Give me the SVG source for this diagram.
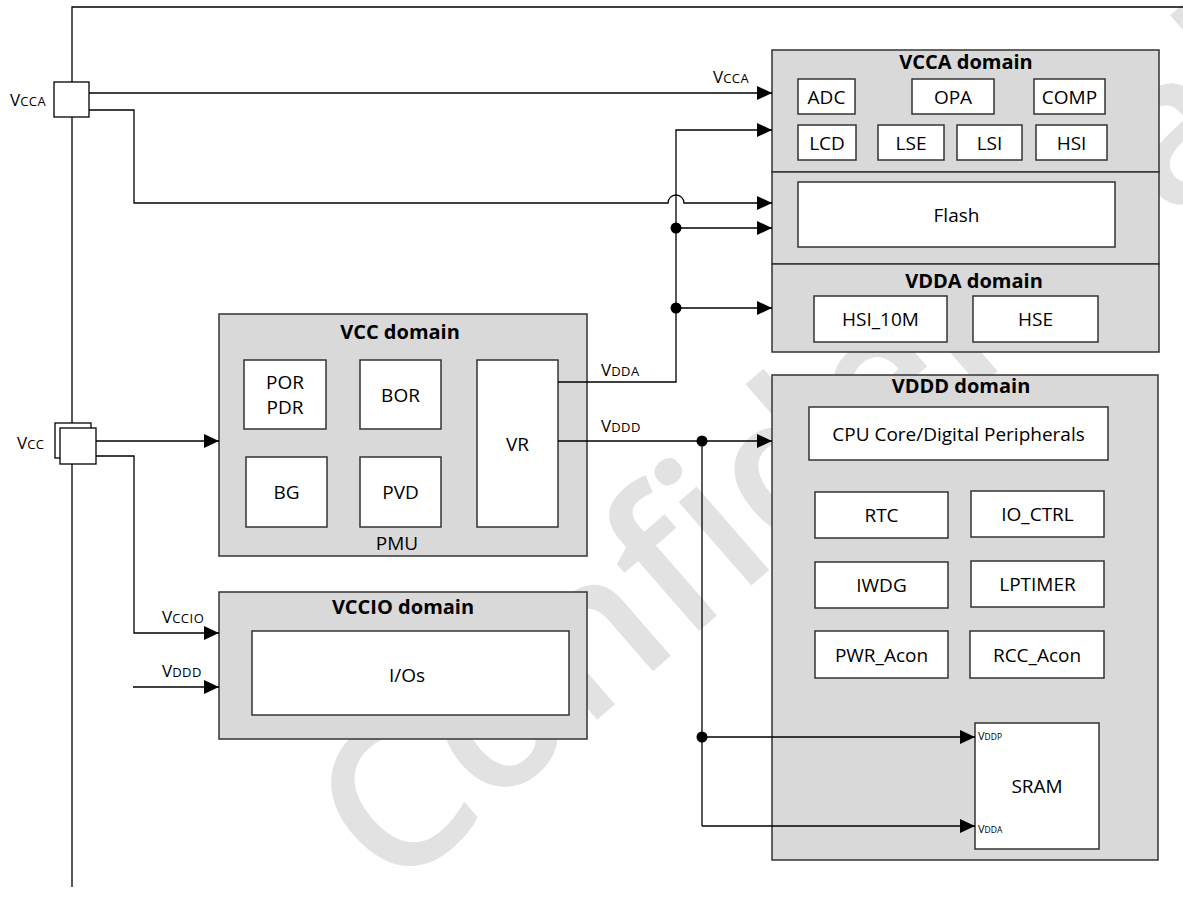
<svg xmlns="http://www.w3.org/2000/svg" width="1183" height="917" viewBox="0 0 1183 917">
<style>
.dom{fill:#d9d9d9;stroke:#333;stroke-width:1.5}
.blk{fill:#fff;stroke:#333;stroke-width:1.5}
.pin{fill:#fff;stroke:#000;stroke-width:1.3}
.t{font-family:"Open Sans","Liberation Sans",sans-serif;font-size:19px;fill:#000;text-anchor:middle}
.tt{font-family:"Open Sans","Liberation Sans",sans-serif;font-size:20px;font-weight:bold;fill:#000;text-anchor:middle}
.lbl{font-family:"Open Sans","Liberation Sans",sans-serif;font-size:17px;fill:#000}
.sc{font-size:13px;letter-spacing:0.5px}
.sm{font-family:"Open Sans","Liberation Sans",sans-serif;font-size:11px;fill:#000}
.sm2{font-size:8.5px}
.w{fill:none;stroke:#000;stroke-width:1.3}
.wa{fill:none;stroke:#000;stroke-width:1.3;marker-end:url(#ah)}
.dot{fill:#000}
.wm{font-family:"Open Sans","Liberation Sans",sans-serif;font-size:205px;font-weight:600;fill:#e2e2e2}
</style>
<defs>
<marker id="ah" markerUnits="userSpaceOnUse" markerWidth="15" markerHeight="14" refX="15" refY="7" orient="auto">
<path d="M0,0 L15,7 L0,14 z" fill="#000"/>
</marker>
</defs>
<rect width="1183" height="917" fill="#fff"/>
<g id="watermark">
<text class="wm" x="392" y="898" transform="rotate(-41 392 898)">Confidential</text>
</g>

<g id="frame">
<path class="w" d="M72,887 V7 H1183"/>
</g>

<g id="vcca-domain">
<rect class="dom" x="772" y="50" width="387" height="122"/>
<text class="tt" x="966" y="69">VCCA domain</text>
<rect class="blk" x="798" y="79" width="57" height="35"/><text class="t" x="826.5" y="103.5">ADC</text>
<rect class="blk" x="912" y="79" width="82" height="35"/><text class="t" x="953" y="103.5">OPA</text>
<rect class="blk" x="1034" y="79" width="71" height="35"/><text class="t" x="1069.5" y="103.5">COMP</text>
<rect class="blk" x="798" y="125" width="58" height="35"/><text class="t" x="827" y="149.5">LCD</text>
<rect class="blk" x="878" y="125" width="66" height="35"/><text class="t" x="911" y="149.5">LSE</text>
<rect class="blk" x="957" y="125" width="65" height="35"/><text class="t" x="989.5" y="149.5">LSI</text>
<rect class="blk" x="1036" y="125" width="71" height="35"/><text class="t" x="1071.5" y="149.5">HSI</text>
</g>

<g id="flash-section">
<rect class="dom" x="772" y="172" width="387" height="92"/>
<rect class="blk" x="798" y="182" width="317" height="65"/>
<text class="t" x="956.5" y="221.5">Flash</text>
</g>

<g id="vdda-domain">
<rect class="dom" x="772" y="264" width="387" height="88"/>
<text class="tt" x="974" y="288">VDDA domain</text>
<rect class="blk" x="814" y="296" width="133" height="46"/><text class="t" x="880.5" y="326">HSI_10M</text>
<rect class="blk" x="973" y="296" width="125" height="46"/><text class="t" x="1035.5" y="326">HSE</text>
</g>

<g id="vcc-domain">
<rect class="dom" x="219" y="314" width="368" height="242"/>
<text class="tt" x="400" y="339">VCC domain</text>
<rect class="blk" x="244" y="360" width="82" height="69"/>
<text class="t" x="285" y="389">POR</text><text class="t" x="285" y="414">PDR</text>
<rect class="blk" x="360" y="360" width="81" height="69"/><text class="t" x="400.5" y="402">BOR</text>
<rect class="blk" x="246" y="457" width="81" height="70"/><text class="t" x="286.5" y="499">BG</text>
<rect class="blk" x="360" y="457" width="81" height="70"/><text class="t" x="400.5" y="499">PVD</text>
<rect class="blk" x="477" y="360" width="81" height="167"/><text class="t" x="517.5" y="451">VR</text>
<text class="t" x="397" y="550">PMU</text>
</g>

<g id="vccio-domain">
<rect class="dom" x="219" y="592" width="368" height="147"/>
<text class="tt" x="403" y="614">VCCIO domain</text>
<rect class="blk" x="252" y="631" width="317" height="84"/>
<text class="t" x="407" y="682">I/Os</text>
</g>

<g id="vddd-domain">
<rect class="dom" x="772" y="375" width="386" height="485"/>
<text class="tt" x="961" y="393">VDDD domain</text>
<rect class="blk" x="809" y="407" width="299" height="53"/><text class="t" x="958.5" y="440.5">CPU Core/Digital Peripherals</text>
<rect class="blk" x="815" y="492" width="133" height="46"/><text class="t" x="881.5" y="522">RTC</text>
<rect class="blk" x="971" y="491" width="133" height="46"/><text class="t" x="1037.5" y="521">IO_CTRL</text>
<rect class="blk" x="815" y="562" width="133" height="46"/><text class="t" x="881.5" y="592">IWDG</text>
<rect class="blk" x="971" y="561" width="133" height="46"/><text class="t" x="1037.5" y="591">LPTIMER</text>
<rect class="blk" x="815" y="631" width="133" height="47"/><text class="t" x="881.5" y="661.5">PWR_Acon</text>
<rect class="blk" x="970" y="631" width="134" height="47"/><text class="t" x="1037" y="661.5">RCC_Acon</text>
</g>

<g id="sram">
<rect class="blk" x="975" y="723" width="124" height="126"/>
<text class="t" x="1037" y="793">SRAM</text>
<text class="sm" x="978" y="740">V<tspan class="sm2">DDP</tspan></text>
<text class="sm" x="978" y="833">V<tspan class="sm2">DDA</tspan></text>
</g>

<g id="connectors">
<path class="wa" d="M89,93 H772"/>
<path class="wa" d="M89,110 H134 V203 H668 A8,8 0 0 1 684,203 H772"/>
<path class="wa" d="M558,382 H676 V130 H772"/>
<path class="wa" d="M676,228 H772"/>
<path class="wa" d="M676,308 H772"/>
<path class="wa" d="M96,441 H219"/>
<path class="wa" d="M96,456 H134 V633 H219"/>
<path class="wa" d="M133,687 H219"/>
<path class="wa" d="M558,441 H772"/>
<path class="w" d="M702,441 V826"/>
<path class="wa" d="M702,737 H975"/>
<path class="wa" d="M702,826 H975"/>
<circle class="dot" cx="676" cy="228" r="5.5"/>
<circle class="dot" cx="676" cy="308" r="5.5"/>
<circle class="dot" cx="702" cy="441" r="5.5"/>
<circle class="dot" cx="702" cy="737" r="5.5"/>
<text class="lbl" x="713" y="83">V<tspan class="sc">CCA</tspan></text>
<text class="lbl" x="601" y="376">V<tspan class="sc">DDA</tspan></text>
<text class="lbl" x="601" y="432">V<tspan class="sc">DDD</tspan></text>
<text class="lbl" x="162" y="623">V<tspan class="sc">CCIO</tspan></text>
<text class="lbl" x="162" y="677">V<tspan class="sc">DDD</tspan></text>
</g>

<g id="pin-vcca">
<rect class="pin" x="54" y="82" width="35" height="35"/>
<text class="lbl" x="10" y="106">V<tspan class="sc">CCA</tspan></text>
</g>

<g id="pin-vcc">
<rect class="pin" x="55" y="423" width="36" height="35"/>
<rect class="pin" x="60" y="428" width="36" height="36"/>
<text class="lbl" x="17" y="449">V<tspan class="sc">CC</tspan></text>
</g>
</svg>
